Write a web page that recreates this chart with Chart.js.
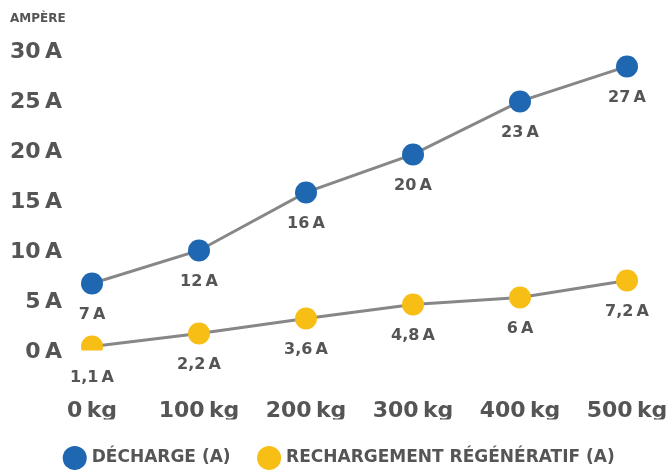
<!DOCTYPE html>
<html>
<head>
<meta charset="utf-8">
<script src="https://cdn.jsdelivr.net/npm/chart.js@4.4.1/dist/chart.umd.min.js"></script>
<style>
  body { margin: 0; background: #fff; }
  #wrap { width: 671px; height: 470px; position: relative; }
</style>
</head>
<body>
<div id="wrap"><canvas id="chart"></canvas></div>
<script>
// Charge (kg) on the x axis
const weights = ['0\u202Fkg', '100\u202Fkg', '200\u202Fkg', '300\u202Fkg', '400\u202Fkg', '500\u202Fkg'];

// Point heights as drawn in the picture
const decharge = [6.7, 10.0, 15.8, 19.6, 24.9, 28.4];
const recharge = [0.4, 1.7, 3.2, 4.6, 5.3, 7.0];

// Labels printed under each point
const dechargeLabels = ['7\u202FA', '12\u202FA', '16\u202FA', '20\u202FA', '23\u202FA', '27\u202FA'];
const rechargeLabels = ['1,1\u202FA', '2,2\u202FA', '3,6\u202FA', '4,8\u202FA', '6\u202FA', '7,2\u202FA'];

const seriesNames = ['DÉCHARGE (A)', 'RECHARGEMENT RÉGÉNÉRATIF (A)'];

const FONT = 'DejaVu Sans';
const TEXT = '#555555';
const BLUE = '#1f67b1';
const YELLOW = '#f7be16';

// draws the value text below each point
const pointLabels = {
    id: 'pointLabels',
    afterDatasetsDraw(chart) {
        const ctx = chart.ctx;
        const allLabels = [dechargeLabels, rechargeLabels];
        ctx.save();
        ctx.font = 'bold 16px "' + FONT + '"';
        ctx.fillStyle = TEXT;
        ctx.textAlign = 'center';
        ctx.textBaseline = 'middle';
        chart.data.datasets.forEach((ds, i) => {
            const meta = chart.getDatasetMeta(i);
            meta.data.forEach((pt, j) => {
                ctx.fillText(allLabels[i][j], pt.x, pt.y + 31);
            });
        });
        ctx.restore();
    }
};

// keep the legend strip at a fixed height so it sits at the bottom
const legendHeight = {
    id: 'legendHeight',
    afterInit(chart) {
        const legend = chart.legend;
        const fit = legend.fit.bind(legend);
        legend.fit = function () {
            fit();
            this.height = 50.5;
        };
    }
};

new Chart(document.getElementById('chart'), {
    type: 'line',
    data: {
        labels: weights,
        datasets: [{
            label: seriesNames[0],
            data: decharge,
            borderColor: '#878787',
            borderWidth: 3,
            backgroundColor: BLUE,
            pointBackgroundColor: BLUE,
            pointBorderWidth: 0,
            pointRadius: 11,
            pointHoverRadius: 11
        }, {
            label: seriesNames[1],
            data: recharge,
            borderColor: '#878787',
            borderWidth: 3,
            backgroundColor: YELLOW,
            pointBackgroundColor: YELLOW,
            pointBorderWidth: 0,
            pointRadius: 11,
            pointHoverRadius: 11
        }]
    },
    options: {
        responsive: true,
        maintainAspectRatio: false,
        animation: false,
        layout: {
            padding: { left: 10, right: 0, top: 0, bottom: 0 }
        },
        plugins: {
            title: {
                display: true,
                text: 'AMPÈRE',
                align: 'start',
                color: TEXT,
                font: { family: FONT, size: 12, weight: 'bold' },
                padding: { top: 12, bottom: 24 }
            },
            legend: {
                position: 'bottom',
                labels: {
                    usePointStyle: true,
                    pointStyle: 'circle',
                    boxHeight: 17,
                    color: TEXT,
                    padding: 30,
                    font: { family: FONT, size: 17, weight: 'bold' }
                }
            },
            tooltip: { enabled: false }
        },
        scales: {
            y: {
                min: 0,
                max: 30,
                grid: { display: false, drawTicks: false },
                border: { display: false },
                ticks: {
                    stepSize: 5,
                    padding: 30,
                    labelOffset: 2,
                    color: TEXT,
                    font: { family: FONT, size: 22, weight: 'bold' },
                    callback: v => v + '\u202FA'
                },
                afterFit: scale => {
                    scale.width = 82;
                    scale.paddingTop = 0;
                    scale.paddingBottom = 0;
                }
            },
            x: {
                grid: { display: false, drawTicks: false },
                border: { display: false },
                ticks: {
                    padding: 48,
                    color: TEXT,
                    maxRotation: 0,
                    autoSkip: false,
                    font: { family: FONT, size: 22, weight: 'bold' }
                },
                afterFit: scale => {
                    scale.height = 69;
                    scale.paddingLeft = 0;
                    scale.paddingRight = 44;
                }
            }
        }
    },
    plugins: [pointLabels, legendHeight]
});
</script>
</body>
</html>
